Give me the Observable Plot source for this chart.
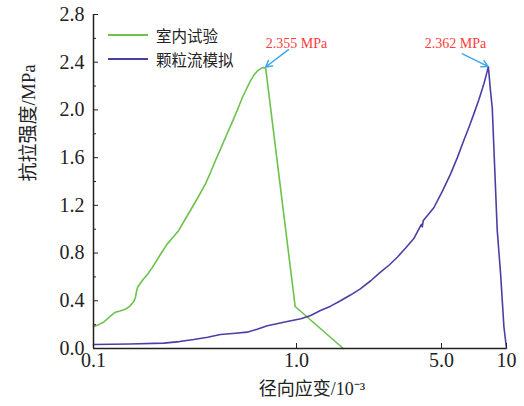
<!DOCTYPE html>
<html>
<head>
<meta charset="utf-8">
<script src="https://cdn.jsdelivr.net/npm/d3@7"></script>
<script src="https://cdn.jsdelivr.net/npm/@observablehq/plot@0.6"></script>
<style>
  body { margin: 0; background: #fff; }
  #wrap { position: relative; width: 524px; height: 406px; }
  #legend { position: absolute; left: 108px; top: 23px; font-family: "Noto Sans CJK SC", sans-serif; font-size: 15.5px; color: #222; }
  .item { display: flex; align-items: center; height: 24px; }
  .sw { width: 40px; height: 0; border-top: 2px solid; margin-right: 8px; }
</style>
</head>
<body>
<div id="wrap"></div>
<script>
// Series names and colours
const seriesNames = ["室内试验", "颗粒流模拟"];
const seriesColors = ["#6cc24a", "#4b3fa6"];

// 室内试验 (laboratory test)
const labX = [0.100, 0.106, 0.112, 0.120, 0.128, 0.135, 0.141, 0.147, 0.152, 0.158, 0.161, 0.163, 0.165, 0.170, 0.174, 0.185, 0.195, 0.212, 0.231, 0.247, 0.263, 0.281, 0.300, 0.328, 0.356, 0.378, 0.399, 0.427, 0.455, 0.483, 0.510, 0.540, 0.572, 0.594, 0.616, 0.640, 0.664, 0.680, 0.690, 0.705, 0.985, 1.68];
const labY = [0.184, 0.200, 0.22, 0.265, 0.304, 0.314, 0.324, 0.340, 0.36, 0.395, 0.43, 0.48, 0.514, 0.545, 0.57, 0.625, 0.68, 0.78, 0.877, 0.935, 0.99, 1.075, 1.157, 1.27, 1.38, 1.48, 1.576, 1.69, 1.80, 1.90, 1.995, 2.10, 2.19, 2.245, 2.29, 2.325, 2.345, 2.353, 2.355, 2.350, 0.352, 0.0];

// 颗粒流模拟 (particle flow simulation)
const simX = [0.100, 0.15, 0.222, 0.265, 0.312, 0.365, 0.422, 0.50, 0.572, 0.640, 0.718, 0.80, 0.90, 1.05, 1.17, 1.305, 1.46, 1.63, 1.82, 2.03, 2.28, 2.54, 2.80, 3.06, 3.35, 3.67, 4.00, 4.04, 4.08, 4.59, 5.05, 5.51, 5.92, 6.34, 6.70, 7.06, 7.46, 7.86, 8.05, 8.24, 8.30, 8.43, 8.59, 9.06, 9.39, 9.73, 10.0];
const simY = [0.034, 0.038, 0.045, 0.058, 0.075, 0.095, 0.117, 0.128, 0.137, 0.162, 0.19, 0.207, 0.226, 0.25, 0.277, 0.318, 0.355, 0.40, 0.448, 0.50, 0.568, 0.64, 0.70, 0.765, 0.84, 0.92, 1.04, 1.02, 1.07, 1.18, 1.32, 1.464, 1.60, 1.743, 1.855, 1.967, 2.09, 2.22, 2.29, 2.362, 2.30, 2.16, 2.02, 0.99, 0.626, 0.18, 0.0];

// Peak annotations
const peakLabels = ["2.355 MPa", "2.362 MPa"];
const peakLabelX = [1.0, 5.8];
const peakLabelY = [2.52, 2.52];
const arrowX1 = [0.913, 6.25];
const arrowY1 = [2.505, 2.47];
const arrowX2 = [0.705, 8.20];
const arrowY2 = [2.36, 2.365];

// Axis ticks
const xTicks = [0.1, 1, 5, 10];
const xTickLabels = ["0.1", "1.0", "5.0", "10"];
const yTicks = [0, 0.4, 0.8, 1.2, 1.6, 2.0, 2.4, 2.8];
const yMinorTicks = [0.2, 0.6, 1.0, 1.4, 1.8, 2.2, 2.6];
const xTitle = "径向应变/10⁻³";
const yTitle = "抗拉强度/MPa";

const labData = labX.map((x, i) => ({x, y: labY[i], s: seriesNames[0]}));
const simData = simX.map((x, i) => ({x, y: simY[i], s: seriesNames[1]}));
const annData = peakLabels.map((t, i) => ({t, x: peakLabelX[i], y: peakLabelY[i], x1: arrowX1[i], y1: arrowY1[i], x2: arrowX2[i], y2: arrowY2[i]}));

const serif = "'Liberation Serif', 'Times New Roman', 'Noto Sans CJK SC', serif";
const cjk = "'Liberation Serif', 'Noto Sans CJK SC', sans-serif";

const chart = Plot.plot({
  width: 524,
  height: 406,
  marginLeft: 93,
  marginRight: 18,
  marginTop: 14,
  marginBottom: 58,
  style: {fontFamily: serif, fontSize: "20px", color: "#222", background: "#fff"},
  x: {type: "log", domain: [0.1, 1, 5, 10], range: [93, 296, 441, 506]},
  y: {domain: [0, 2.8]},
  marks: [
    Plot.line(labData, {x: "x", y: "y", stroke: seriesColors[0], strokeWidth: 1.6}),
    Plot.line(simData, {x: "x", y: "y", stroke: seriesColors[1], strokeWidth: 1.6}),
    Plot.ruleX([0.1], {stroke: "#222", strokeWidth: 1.5}),
    Plot.ruleY([0], {stroke: "#222", strokeWidth: 1.5}),
    Plot.axisY({ticks: yTicks, tickSize: 5, dx: 5, text: null, stroke: "#222"}),
    Plot.axisY({ticks: yMinorTicks, tickSize: 3, dx: 3, text: null, stroke: "#222"}),
    Plot.axisY({ticks: yTicks, tickSize: 0, tickPadding: 9, tickFormat: d => d.toFixed(1), label: null, fill: "#222"}),
    Plot.axisX({ticks: xTicks, tickSize: 5, dy: -5, text: null, stroke: "#222"}),
    Plot.axisX({ticks: xTicks, tickSize: 0, tickPadding: 4, tickFormat: d => xTickLabels[xTicks.indexOf(d)], label: null, fill: "#222"}),
    Plot.text([xTitle], {frameAnchor: "bottom", dy: 46, dx: 12, fontSize: 18, fontFamily: cjk, fill: "#222"}),
    Plot.text([yTitle], {frameAnchor: "left", dx: -65, rotate: -90, fontSize: 19, fontFamily: cjk, fill: "#222"}),
    Plot.arrow(annData, {x1: "x1", y1: "y1", x2: "x2", y2: "y2", stroke: "#3aa8ea", strokeWidth: 1.5, headLength: 7}),
    Plot.text(annData, {x: "x", y: "y", text: "t", fill: "#ff3b3b", fontSize: 14, lineAnchor: "bottom"})
  ]
});

const wrap = document.getElementById("wrap");
wrap.appendChild(chart);
const legend = document.createElement("div");
legend.id = "legend";
seriesNames.forEach((n, i) => {
  const it = document.createElement("div");
  it.className = "item";
  const sw = document.createElement("span");
  sw.className = "sw";
  sw.style.borderTopColor = seriesColors[i];
  const tx = document.createElement("span");
  tx.textContent = n;
  it.appendChild(sw); it.appendChild(tx);
  legend.appendChild(it);
});
wrap.appendChild(legend);
</script>
</body>
</html>
